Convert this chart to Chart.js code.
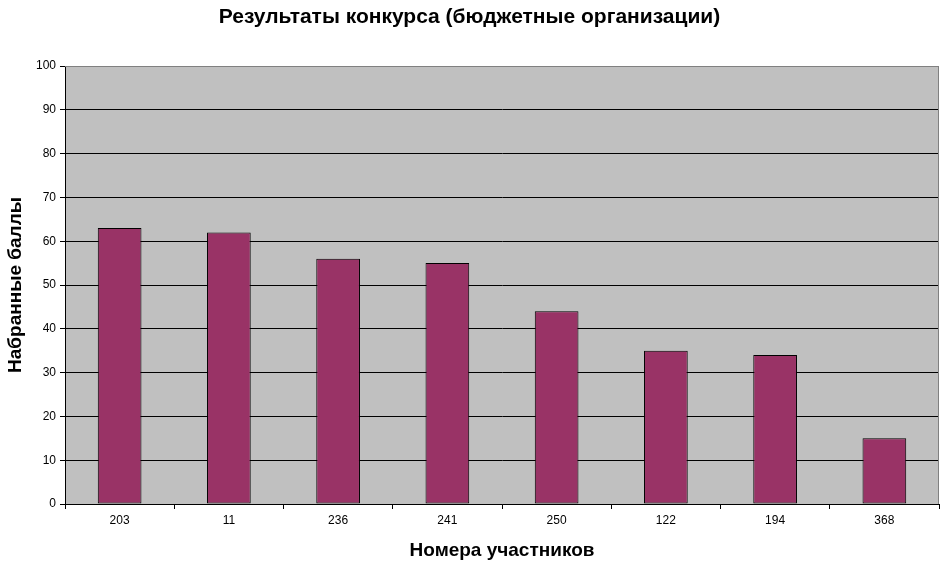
<!DOCTYPE html>
<html>
<head>
<meta charset="utf-8">
<script src="https://cdn.jsdelivr.net/npm/chart.js@4"></script>
<style>
  html, body { margin: 0; padding: 0; background: #fff; }
  canvas { display: block; }
</style>
</head>
<body>
<canvas id="chart" width="946" height="567"></canvas>
<script>
// chart data
const participants = ['203', '11', '236', '241', '250', '122', '194', '368'];
const scores = [63, 62, 56, 55, 44, 35, 34, 15];
const yTicks = { min: 0, max: 100, step: 10 };

// grey plot area like old Excel charts
const plotBackground = {
    id: 'plotBackground',
    beforeDraw(chart) {
        const { ctx, chartArea: a } = chart;
        ctx.save();
        ctx.fillStyle = '#c0c0c0';
        ctx.fillRect(a.left, a.top, a.right - a.left, a.bottom - a.top);
        ctx.restore();
    },
    afterDatasetsDraw(chart) {
        const { ctx, chartArea: a } = chart;
        ctx.save();
        ctx.strokeStyle = '#808080';
        ctx.lineWidth = 1;
        ctx.beginPath();
        ctx.moveTo(a.left, a.top + 0.5);
        ctx.lineTo(a.right - 0.5, a.top + 0.5);
        ctx.lineTo(a.right - 0.5, a.bottom);
        ctx.stroke();
        ctx.restore();
    }
};

const font = 'Liberation Sans, Arial, sans-serif';

new Chart(document.getElementById('chart'), {
    type: 'bar',
    data: {
        labels: participants,
        datasets: [{
            data: scores,
            backgroundColor: '#993366',
            borderColor: '#000',
            borderWidth: 1,
            borderSkipped: false,
            barPercentage: 0.4,
            categoryPercentage: 1
        }]
    },
    options: {
        responsive: false,
        animation: false,
        layout: { padding: { left: 0, right: 7, top: 0, bottom: 0 } },
        plugins: {
            legend: { display: false },
            tooltip: { enabled: false },
            title: {
                display: true,
                text: 'Результаты конкурса (бюджетные организации)',
                color: '#000',
                font: { family: font, size: 21, weight: 'bold' },
                padding: { top: 4.5, bottom: 36.3 }
            }
        },
        scales: {
            x: {
                afterFit(scale) { scale.height = 63; },
                grid: {
                    offset: true,
                    drawOnChartArea: false,
                    drawTicks: true,
                    tickLength: 5,
                    color: '#000'
                },
                border: { color: '#000' },
                ticks: {
                    color: '#000',
                    font: { family: font, size: 12 },
                    padding: 4
                },
                title: {
                    display: true,
                    text: 'Номера участников',
                    color: '#000',
                    font: { family: font, size: 19, weight: 'bold' },
                    padding: { top: 0, bottom: 4.6 }
                }
            },
            y: {
                min: yTicks.min,
                max: yTicks.max,
                afterFit(scale) { scale.width = 65; },
                grid: {
                    color: ctx => ctx.tick && ctx.tick.value === yTicks.max ? '#808080' : '#000',
                    tickColor: '#000',
                    tickLength: 5
                },
                border: { color: '#000' },
                ticks: {
                    stepSize: yTicks.step,
                    color: '#000',
                    font: { family: font, size: 12 },
                    padding: 4
                },
                title: {
                    display: true,
                    text: 'Набранные баллы',
                    color: '#000',
                    font: { family: font, size: 19, weight: 'bold' },
                    padding: { top: 4, bottom: 0 }
                }
            }
        }
    },
    plugins: [plotBackground]
});
</script>
</body>
</html>
